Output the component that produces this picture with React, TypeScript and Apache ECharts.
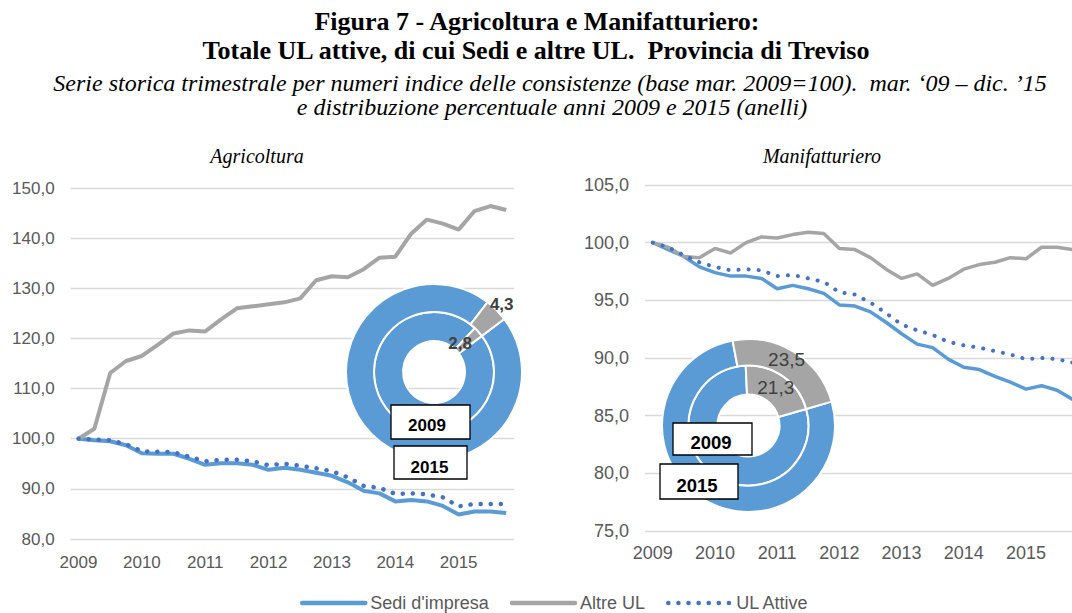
import React, { useEffect, useRef } from "react";
import * as echarts from "echarts";

const quarters = [
  "mar 2009", "giu 2009", "set 2009", "dic 2009",
  "mar 2010", "giu 2010", "set 2010", "dic 2010",
  "mar 2011", "giu 2011", "set 2011", "dic 2011",
  "mar 2012", "giu 2012", "set 2012", "dic 2012",
  "mar 2013", "giu 2013", "set 2013", "dic 2013",
  "mar 2014", "giu 2014", "set 2014", "dic 2014",
  "mar 2015", "giu 2015", "set 2015", "dic 2015",
];

const agriSedi = [100, 99.7, 99.5, 98.7, 97.1, 97.0, 97.0, 96.0, 94.8, 95.1, 95.1, 94.8, 93.8, 94.2, 93.8, 93.2, 92.6, 91.3, 89.6, 89.1, 87.5, 87.8, 87.5, 86.6, 84.9, 85.5, 85.5, 85.2];
const agriAltre = [100, 102.0, 113.1, 115.5, 116.5, 118.7, 121.0, 121.6, 121.4, 123.8, 126.0, 126.4, 126.8, 127.2, 128.0, 131.6, 132.4, 132.2, 133.8, 136.1, 136.3, 140.9, 143.7, 142.9, 141.7, 145.4, 146.4, 145.6];
const agriUL = [100, 99.8, 99.7, 98.9, 97.5, 97.4, 97.3, 96.4, 95.5, 95.8, 95.8, 95.5, 94.7, 95.0, 94.6, 94.1, 93.5, 92.3, 90.6, 90.2, 89.0, 89.1, 88.9, 88.3, 86.5, 87.0, 87.0, 87.0];

const manSedi = [100, 99.4, 98.8, 97.9, 97.4, 97.1, 97.1, 96.9, 96.0, 96.3, 96.0, 95.6, 94.6, 94.5, 94.0, 93.1, 92.1, 91.2, 90.9, 89.9, 89.2, 89.0, 88.4, 87.9, 87.3, 87.6, 87.2, 86.4];
const manAltre = [100, 99.6, 98.8, 98.7, 99.5, 99.1, 100.0, 100.5, 100.4, 100.7, 100.9, 100.8, 99.5, 99.4, 98.7, 97.7, 96.9, 97.3, 96.3, 96.9, 97.7, 98.1, 98.3, 98.7, 98.6, 99.6, 99.6, 99.4];
const manUL = [100, 99.6, 98.9, 98.3, 97.9, 97.6, 97.7, 97.6, 97.1, 97.2, 96.9, 96.6, 95.7, 95.5, 94.8, 93.9, 92.9, 92.4, 92.0, 91.4, 91.1, 90.9, 90.6, 90.3, 89.9, 90.0, 89.9, 89.6];

// ring shares: [Sedi, Altre UL]
const agri2009 = [97.2, 2.8];
const agri2015 = [95.7, 4.3];
const man2009 = [78.7, 21.3];
const man2015 = [76.5, 23.5];

const seriesNames = ["Sedi d'impresa", "Altre UL", "UL Attive"];
const agriYTicks = { min: 80, max: 150, interval: 10 };
const manYTicks = { min: 75, max: 105, interval: 5 };

const SANS = "'Liberation Sans', Arial, sans-serif";
const SERIF = "'Liberation Serif', 'Times New Roman', serif";
const BLUE = "#5B9BD5";
const GRAY = "#A5A5A5";
const DARKBLUE = "#4472C4";
const LABEL = "#595959";

const fmt1 = (v: number) => v.toFixed(1).replace(".", ",");

function lineSeries(idx: number, s: number[], a: number[], u: number[], w: number) {
  return [
    {
      name: seriesNames[0], type: "line", xAxisIndex: idx, yAxisIndex: idx, data: s,
      symbol: "none", lineStyle: { color: BLUE, width: w }, itemStyle: { color: BLUE }, z: 2,
    },
    {
      name: seriesNames[1], type: "line", xAxisIndex: idx, yAxisIndex: idx, data: a,
      symbol: "none", lineStyle: { color: GRAY, width: w }, itemStyle: { color: GRAY }, z: 2,
    },
    {
      name: seriesNames[2], type: "line", xAxisIndex: idx, yAxisIndex: idx, data: u,
      symbol: "none",
      lineStyle: { color: DARKBLUE, width: w + 0.5, type: [0.1, 10], cap: "round" },
      itemStyle: { color: DARKBLUE }, z: 3,
    },
  ];
}

function ring(
  name: string, vals: number[], center: number[], radius: number[], startAngle: number,
  labelStyle: any, dx: number, dy: number
) {
  return {
    name, type: "pie", center, radius, startAngle, clockwise: true, silent: true, z: 5,
    avoidLabelOverlap: false,
    label: { show: false },
    labelLine: { show: false },
    labelLayout: { dx, dy },
    itemStyle: { borderColor: "#ffffff", borderWidth: 2 },
    data: [
      { name: "Sedi", value: vals[0], itemStyle: { color: BLUE } },
      {
        name: "Altre", value: vals[1], itemStyle: { color: GRAY },
        label: {
          show: true, position: "inside",
          formatter: (p: any) => String(p.value).replace(".", ","),
          ...labelStyle,
        },
      },
    ],
  };
}

function yearBox(x: number, y: number, w: number, h: number, tx: number, ty: number, text: string, fs: number) {
  return [
    {
      type: "rect", z: 100, shape: { x, y, width: w, height: h },
      style: { fill: "#ffffff", stroke: "#000000", lineWidth: 1.3 },
    },
    {
      type: "text", z: 101, x: tx, y: ty,
      style: { text, fill: "#000000", font: `bold ${fs}px ${SANS}`, align: "center", verticalAlign: "middle" },
    },
  ];
}

function titleText(text: string, x: number, y: number, font: string) {
  return {
    type: "text", x, y,
    style: { text, fill: "#000000", font, align: "center", verticalAlign: "middle" },
  };
}

export default function App() {
  const ref = useRef<HTMLDivElement>(null);

  useEffect(() => {
    if (!ref.current) return;
    const chart = echarts.init(ref.current, null, { renderer: "svg" });

    const xAxisBase = (fs: number, margin: number) => ({
      type: "category",
      data: quarters,
      boundaryGap: true,
      axisLine: { show: false },
      axisTick: { show: false },
      splitLine: { show: false },
      axisLabel: {
        interval: 3, margin, color: LABEL, fontSize: fs, fontFamily: SANS,
        formatter: (v: string) => v.split(" ")[1],
      },
    });
    const yAxisBase = (t: any, fs: number) => ({
      type: "value",
      min: t.min, max: t.max, interval: t.interval,
      axisLine: { show: false },
      axisTick: { show: false },
      splitLine: { lineStyle: { color: "#D9D9D9", width: 1.3 } },
      axisLabel: { margin: 16, color: LABEL, fontSize: fs, fontFamily: SANS, formatter: fmt1 },
    });

    const boldLbl = { color: "#404040", fontWeight: "bold", fontSize: 17, fontFamily: SANS };
    const normLbl = { color: "#404040", fontSize: 19, fontFamily: SANS };

    chart.setOption({
      animation: false,
      backgroundColor: "#ffffff",
      grid: [
        { left: 70.6, top: 188, width: 443.5, height: 351 },
        { left: 645, top: 185, width: 435.4, height: 346 },
      ],
      xAxis: [{ ...xAxisBase(17, 15), gridIndex: 0 }, { ...xAxisBase(18, 13), gridIndex: 1 }],
      yAxis: [{ ...yAxisBase(agriYTicks, 17), gridIndex: 0 }, { ...yAxisBase(manYTicks, 18), gridIndex: 1 }],
      legend: {
        data: seriesNames,
        left: 295, top: 589,
        itemWidth: 63, itemHeight: 14, itemGap: 21,
        itemStyle: { opacity: 0 },
        lineStyle: { width: 4.5, cap: "round" },
        textStyle: { fontSize: 18, color: LABEL, fontFamily: SANS },
        selectedMode: false,
      },
      series: [
        ...lineSeries(0, agriSedi, agriAltre, agriUL, 4),
        ...lineSeries(1, manSedi, manAltre, manUL, 3.5),
        ring("agri2009", agri2009, [434, 372], [31, 60], 37, boldLbl, -10, 4),
        ring("agri2015", agri2015, [434, 372], [60, 88], 37, boldLbl, 13, -13),
        ring("man2009", man2009, [748.5, 425.5], [31, 60], 16, normLbl, -1, 1),
        ring("man2015", man2015, [748.5, 425.5], [60, 86.5], 16, normLbl, -2, -1),
      ],
      graphic: [
        titleText("Figura 7 - Agricoltura e Manifatturiero:", 537, 21, `bold 26px ${SERIF}`),
        titleText("Totale UL attive, di cui Sedi e altre UL.  Provincia di Treviso", 536, 50, `bold 26px ${SERIF}`),
        titleText("Serie storica trimestrale per numeri indice delle consistenze (base mar. 2009=100).  mar. \u201809 \u2013 dic. \u201915", 550, 83, `italic 24px ${SERIF}`),
        titleText("e distribuzione percentuale anni 2009 e 2015 (anelli)", 552, 107, `italic 24px ${SERIF}`),
        titleText("Agricoltura", 257, 156, `italic 20px ${SERIF}`),
        titleText("Manifatturiero", 822, 156, `italic 20px ${SERIF}`),
        ...yearBox(391, 405, 79, 34, 427, 425, "2009", 17),
        ...yearBox(394, 446, 73, 33, 429.5, 467, "2015", 17),
        ...yearBox(673, 423, 79, 32, 711, 442, "2009", 18.5),
        ...yearBox(660, 464, 78, 35, 697, 485, "2015", 18.5),
      ],
    });

    return () => chart.dispose();
  }, []);

  return (
    <div style={{ position: "fixed", left: 0, top: 0, width: 1072, height: 613, overflow: "hidden", background: "#fff" }}>
      <div ref={ref} style={{ width: 1090, height: 613 }} />
    </div>
  );
}
